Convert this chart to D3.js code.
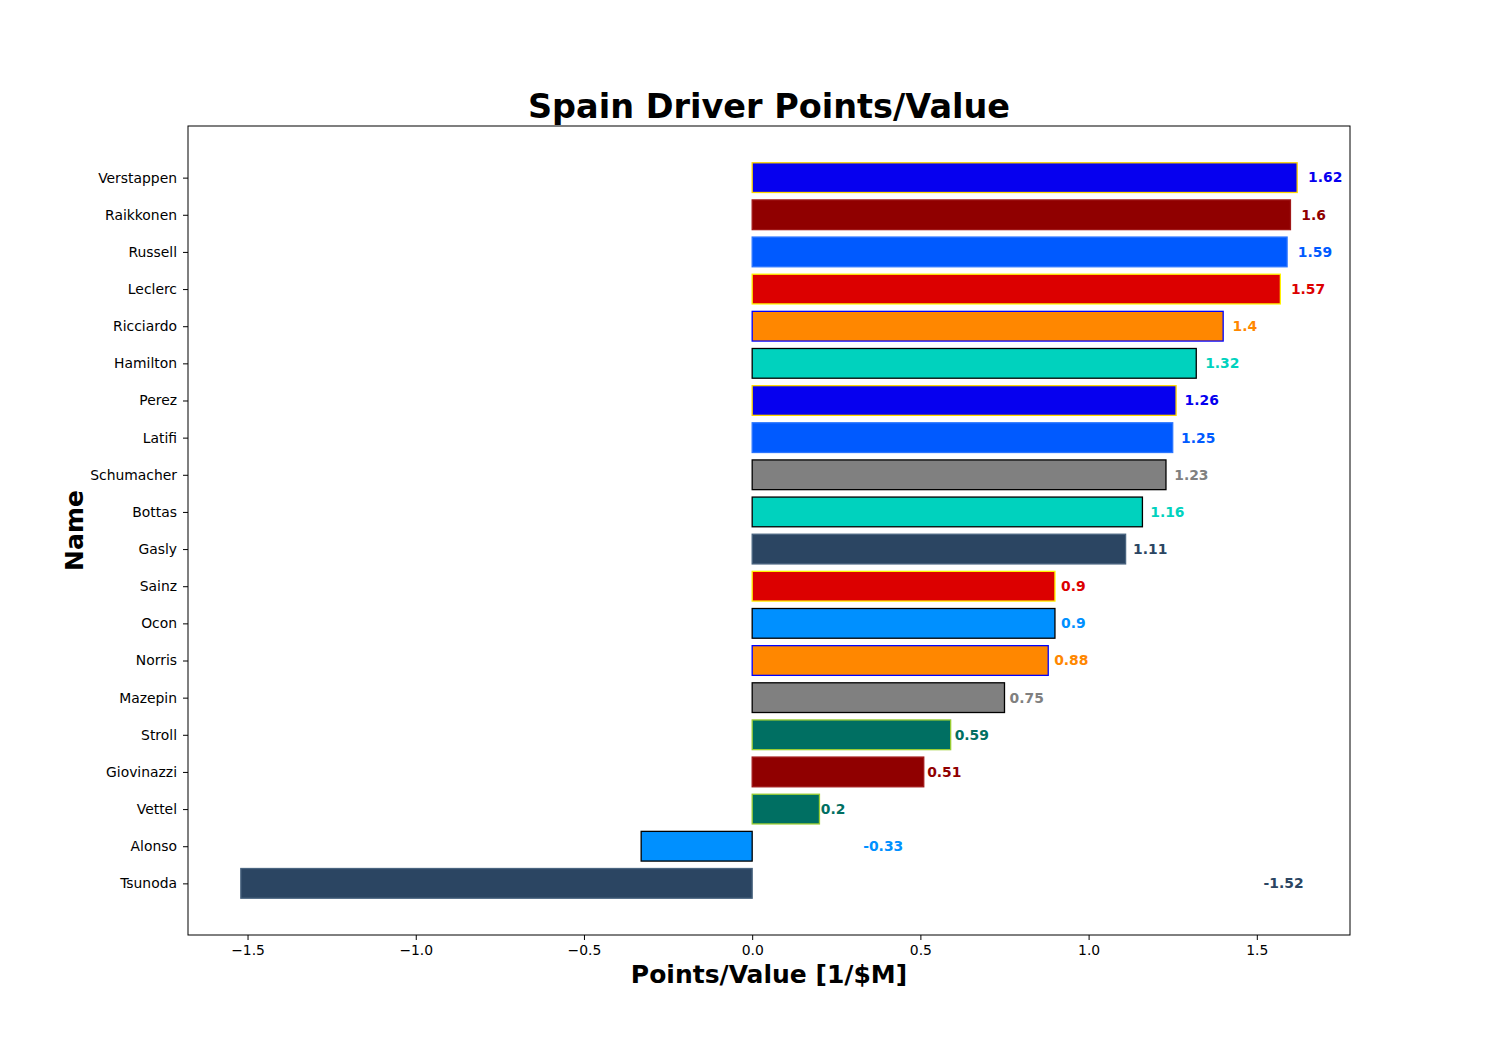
<!DOCTYPE html>
<html>
<head>
<meta charset="utf-8">
<script src="https://cdn.jsdelivr.net/npm/d3@7"></script>
<style>
  body { margin: 0; background: #fff; }
  text { font-family: "DejaVu Sans", sans-serif; }
</style>
</head>
<body>
<div id="chart"></div>
<script>
(() => {
  const names = ["Verstappen", "Raikkonen", "Russell", "Leclerc", "Ricciardo", "Hamilton", "Perez", "Latifi",
    "Schumacher", "Bottas", "Gasly", "Sainz", "Ocon", "Norris", "Mazepin", "Stroll", "Giovinazzi", "Vettel",
    "Alonso", "Tsunoda"];
  const values = [1.62, 1.6, 1.59, 1.57, 1.4, 1.32, 1.26, 1.25, 1.23, 1.16, 1.11, 0.9, 0.9, 0.88, 0.75, 0.59,
    0.51, 0.2, -0.33, -1.52];
  const fills = ["#0600EF", "#900000", "#005AFF", "#DC0000", "#FF8700", "#00D2BE", "#0600EF", "#005AFF",
    "#808080", "#00D2BE", "#2B4562", "#DC0000", "#0090FF", "#FF8700", "#808080", "#006F62", "#900000",
    "#006F62", "#0090FF", "#2B4562"];
  const edges = ["#FFD700", "#A01818", "#2A75FF", "#FFF200", "#0000FF", "#000000", "#FFD700", "#2A75FF",
    "#000000", "#000000", "#4A6580", "#FFF200", "#000000", "#0000FF", "#000000", "#9ACD32", "#A01818",
    "#9ACD32", "#000000", "#4A6580"];
  const xTicks = [-1.5, -1.0, -0.5, 0.0, 0.5, 1.0, 1.5];

  const W = 1500, H = 1050;
  const margin = { top: 126, left: 188, right: 150, bottom: 115 };
  const width = W - margin.left - margin.right,
        height = H - margin.top - margin.bottom;

  const svg = d3.select("#chart").append("svg")
    .attr("width", W).attr("height", H);

  const g = svg.append("g")
    .attr("transform", `translate(${margin.left},${margin.top})`);

  // matplotlib-style 5% margins
  const xmin = d3.min(values), xmax = d3.max(values);
  const xpad = (xmax - xmin) * 0.05;
  const x = d3.scaleLinear().domain([xmin - xpad, xmax + xpad]).range([0, width]);

  const n = names.length;
  const ypad = (n - 1 + 0.8) * 0.05;
  const y = d3.scaleLinear().domain([-0.4 - ypad, n - 1 + 0.4 + ypad]).range([0, height]);
  const bh = y(0.8) - y(0);

  // bars
  g.selectAll(".bar")
    .data(values)
    .enter().append("rect")
    .attr("x", d => x(Math.min(0, d)))
    .attr("y", (d, i) => y(i - 0.4))
    .attr("width", d => Math.abs(x(d) - x(0)))
    .attr("height", bh)
    .attr("fill", (d, i) => fills[i])
    .attr("stroke", (d, i) => edges[i])
    .attr("stroke-width", 1.3);

  // value labels
  g.selectAll(".val")
    .data(values)
    .enter().append("text")
    .attr("x", d => x(d >= 0 ? d * 1.02 + 0.0 : -d + 0.0))
    .attr("y", (d, i) => y(i))
    .attr("dy", "0.35em")
    .attr("fill", (d, i) => fills[i])
    .style("font-size", "13.9px")
    .style("font-weight", "bold")
    .text(d => String(d));

  // x axis
  const xAxis = g.append("g")
    .attr("transform", `translate(0,${height})`)
    .call(d3.axisBottom(x).tickValues(xTicks).tickSize(5).tickPadding(5)
      .tickFormat(d => d3.format(".1f")(d).replace("-", "\u2212")));
  xAxis.select(".domain").remove();
  xAxis.selectAll("text").style("font-size", "13.9px").attr("fill", "#000");
  xAxis.selectAll("line").attr("stroke", "#000").attr("stroke-width", 1);

  // y axis
  const yAxis = g.append("g")
    .call(d3.axisLeft(y).tickValues(d3.range(n)).tickSize(5).tickPadding(6)
      .tickFormat(i => names[i]));
  yAxis.select(".domain").remove();
  yAxis.selectAll("text").style("font-size", "13.9px").attr("fill", "#000");
  yAxis.selectAll("line").attr("stroke", "#000").attr("stroke-width", 1);

  // frame
  g.append("rect")
    .attr("width", width).attr("height", height)
    .attr("fill", "none").attr("stroke", "#000").attr("stroke-width", 1);

  // title and axis labels
  svg.append("text")
    .attr("x", margin.left + width / 2)
    .attr("y", 118)
    .attr("text-anchor", "middle")
    .style("font-size", "33.5px")
    .style("font-weight", "bold")
    .text("Spain Driver Points/Value");

  svg.append("text")
    .attr("x", margin.left + width / 2)
    .attr("y", 983)
    .attr("text-anchor", "middle")
    .style("font-size", "25px")
    .style("font-weight", "bold")
    .text("Points/Value [1/$M]");

  svg.append("text")
    .attr("transform", "rotate(-90)")
    .attr("x", -(margin.top + height / 2))
    .attr("y", 83)
    .attr("text-anchor", "middle")
    .style("font-size", "25px")
    .style("font-weight", "bold")
    .text("Name");
})();
</script>
</body>
</html>
